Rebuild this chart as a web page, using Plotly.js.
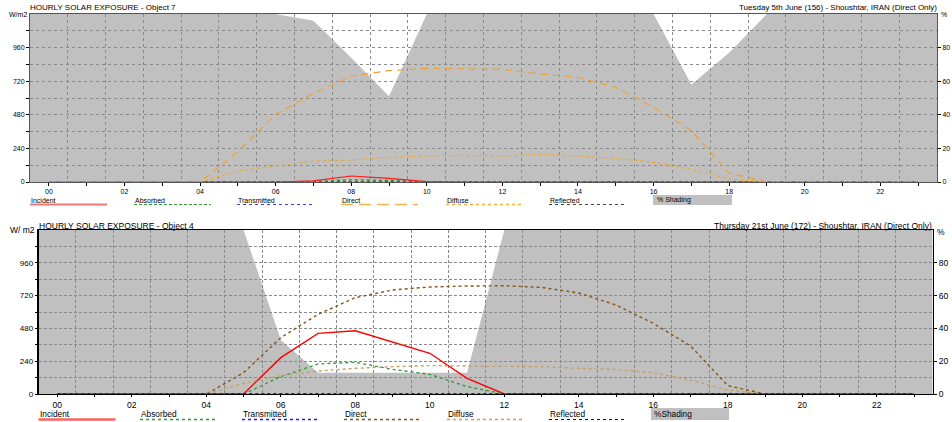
<!DOCTYPE html>
<html><head><meta charset="utf-8">
<script src="https://cdn.plot.ly/plotly-3.0.1.min.js"></script>
<style>html,body{margin:0;padding:0;background:#fff}#chart{width:952px;height:422px}</style>
</head><body><div id="chart"></div>
<script>
// ---------- shared categories / ticks ----------
const hours = [0,1,2,3,4,5,6,7,8,9,10,11,12,13,14,15,16,17,18,19,20,21,22,23];
const hourTickLabels = ['00','','02','','04','','06','','08','','10','','12','','14','','16','','18','','20','','22',''];
const gridHours = [0.5,1.5,2.5,3.5,4.5,5.5,6.5,7.5,8.5,9.5,10.5,11.5,12.5,13.5,14.5,15.5,16.5,17.5,18.5,19.5,20.5,21.5,22.5];
const wTickVals = [0,120,240,360,480,600,720,840,960,1080];
const wTickText = ['0','','240','','480','','720','','960',''];
const pctTickVals = [0,20,40,60,80];
const legendNames = ['Incident','Absorbed','Transmitted','Direct','Diffuse','Reflected'];

// ---------- top panel: Object 7, Tuesday 5th June ----------
const title5 = 'HOURLY SOLAR EXPOSURE - Object 7';
const subtitle5 = 'Tuesday 5th June (156) - Shoushtar, IRAN (Direct Only)';
const shading5     = [100,100,100,100,100,100,100,96,74,51,100,100,100,100,100,100,100,58,77,100,100,100,100,100];
const incident5    = [0,0,0,0,0,0,0,8,43,26,2,0,0,0,0,0,0,0,0,0,0,0,0,0];
const absorbed5    = [0,0,0,0,0,0,0,3,16,11,0,0,0,0,0,0,0,0,0,0,0,0,0,0];
const transmitted5 = [0,0,0,0,0,0,0,0,0,0,0,0,0,0,0,0,0,0,0,0,0,0,0,0];
const direct5      = [0,0,0,0,0,216,483,633,757,795,812,808,805,771,748,676,533,367,64,0,0,0,0,0];
const diffuse5     = [0,0,0,0,0,79,116,150,157,176,186,190,186,198,186,169,141,90,22,0,0,0,0,0];
const reflected5   = [0,0,0,0,0,0,0,0,0,0,0,0,0,0,0,0,0,0,0,0,0,0,0,0];

// ---------- bottom panel: Object 4, Thursday 21st June ----------
const title21 = 'HOURLY SOLAR EXPOSURE - Object 4';
const subtitle21 = 'Thursday 21st June (172) - Shoushtar, IRAN (Direct Only)';
const shading21     = [100,100,100,100,100,100,33,13,13,13,13,13,100,100,100,100,100,100,100,100,100,100,100,100];
const incident21    = [0,0,0,0,0,0,266,444,463,383,298,115,0,0,0,0,0,0,0,0,0,0,0,0];
const absorbed21    = [0,0,0,0,0,0,127,220,232,180,144,54,0,0,0,0,0,0,0,0,0,0,0,0];
const transmitted21 = [0,0,0,0,0,0,0,0,0,0,0,0,0,0,0,0,0,0,0,0,0,0,0,0];
const direct21      = [0,0,0,0,0,156,412,583,705,761,783,790,792,780,739,651,517,351,61,0,0,0,0,0];
const diffuse21     = [0,0,0,0,0,78,134,168,188,200,208,205,205,200,188,180,156,102,29,0,0,0,0,0];
const reflected21   = [0,0,0,0,0,0,0,0,0,0,0,0,0,0,0,0,0,0,0,0,0,0,0,0];

// ---------- layout helpers ----------
const W = 952, H = 422;
const px = v => v / W;
const py = v => 1 - v / H;
const X_RANGE = [-0.5, 23.5];
const FONT = 'Liberation Sans, Arial, sans-serif';

function shadeTrace(vals, xa, ya) {
  // extend the fill to the edges of the axis range
  const xs = [X_RANGE[0]].concat(hours, [X_RANGE[1]]);
  const ys = [vals[0]].concat(vals, [vals[vals.length - 1]]);
  return {x: xs, y: ys, xaxis: xa, yaxis: ya, type: 'scatter', mode: 'lines',
          fill: 'tozeroy', fillcolor: '#C0C0C0', line: {width: 0, color: '#C0C0C0'},
          hoverinfo: 'skip', showlegend: false};
}
function lineTrace(vals, xa, ya, color, dash, width) {
  return {x: hours, y: vals, xaxis: xa, yaxis: ya, type: 'scatter', mode: 'lines',
          line: {color: color, dash: dash, width: width}, hoverinfo: 'skip', showlegend: false};
}

const topStyle = {
  incident: ['#FF1A1A', 'solid', 1.2], absorbed: ['#1E8C1E', 'dot', 1.2],
  transmitted: ['#2020E0', 'dot', 1], direct: ['#F0A030', '7px,5px', 1.2],
  diffuse: ['#F0A830', '3px,3px', 1.2], reflected: ['#333333', 'dot', 1]
};
const botStyle = {
  incident: ['#FF0000', 'solid', 1.4], absorbed: ['#2E9A2E', 'dot', 1.3],
  transmitted: ['#1010D0', 'dot', 1.3], direct: ['#85561A', 'dot', 1.4],
  diffuse: ['#C8A064', 'dot', 1.4], reflected: ['#111111', 'dot', 1.2]
};

const data = [
  shadeTrace(shading5, 'x', 'y'),
  lineTrace(reflected5, 'x2', 'y2', ...topStyle.reflected),
  lineTrace(transmitted5, 'x2', 'y2', ...topStyle.transmitted),
  lineTrace(absorbed5, 'x2', 'y2', ...topStyle.absorbed),
  lineTrace(incident5, 'x2', 'y2', ...topStyle.incident),
  lineTrace(direct5, 'x2', 'y2', ...topStyle.direct),
  lineTrace(diffuse5, 'x2', 'y2', ...topStyle.diffuse),

  shadeTrace(shading21, 'x3', 'y3'),
  lineTrace(incident21, 'x4', 'y4', ...botStyle.incident),
  lineTrace(absorbed21, 'x4', 'y4', ...botStyle.absorbed),
  lineTrace(direct21, 'x4', 'y4', ...botStyle.direct),
  lineTrace(diffuse21, 'x4', 'y4', ...botStyle.diffuse),
  lineTrace(reflected21, 'x4', 'y4', ...botStyle.reflected),
  lineTrace(transmitted21, 'x4', 'y4', ...botStyle.transmitted)
];

const topX = [px(30), px(937)], topY = [py(182), py(14)];
const botX = [px(38.7), px(932.7)], botY = [py(394), py(230)];

function shadeAxes(dx, dy, anchorX, anchorY, lineColor, lineW, tickFontX, tickFontY, tickLenX) {
  return [{
    domain: dx, range: X_RANGE, anchor: anchorY, tickmode: 'array', tickvals: hours, ticktext: hourTickLabels,
    ticks: 'outside', ticklen: tickLenX, tickcolor: '#000', tickwidth: 1, showgrid: false, zeroline: false,
    showline: true, linecolor: lineColor, linewidth: lineW, mirror: true,
    tickfont: {family: FONT, size: tickFontX, color: '#000'}, fixedrange: true
  }, {
    domain: dy, range: [0, 100], anchor: anchorX, side: 'right', tickmode: 'array', tickvals: pctTickVals,
    ticks: 'outside', ticklen: 3, tickcolor: '#000', showgrid: false, zeroline: false,
    showline: true, linecolor: lineColor, linewidth: lineW, mirror: true,
    tickfont: {family: FONT, size: tickFontY, color: '#000'}, fixedrange: true
  }];
}
function lineAxes(dx, dy, anchorX, anchorY, gridColor, gridDash, tickFontY) {
  return [{
    domain: dx, range: X_RANGE, anchor: anchorY, tickmode: 'array', tickvals: gridHours,
    showticklabels: false, ticks: '', showgrid: true, gridcolor: gridColor, griddash: gridDash, gridwidth: 1,
    zeroline: false, showline: false, fixedrange: true
  }, {
    domain: dy, range: [0, 1200], anchor: anchorX, side: 'left', tickmode: 'array',
    tickvals: wTickVals, ticktext: wTickText, ticks: 'outside', ticklen: 3, tickcolor: '#000',
    showgrid: true, gridcolor: gridColor, griddash: gridDash, gridwidth: 1, zeroline: false, showline: false,
    tickfont: {family: FONT, size: tickFontY, color: '#000'}, fixedrange: true
  }];
}

const [xa1, ya1] = shadeAxes(topX, topY, 'x', 'y', '#555555', 1, 7, 7, 3);
const [xa2, ya2] = lineAxes(topX, topY, 'x2', 'y2', '#8A8A8A', '3px,3px', 7);
const [xa3, ya3] = shadeAxes(botX, botY, 'x3', 'y3', '#000000', 1.3, 8.5, 8.5, 2);
const [xa4, ya4] = lineAxes(botX, botY, 'x4', 'y4', '#8A8A8A', '3px,2px', 8);

// ---------- annotations (titles, axis units, legend text) ----------
function ann(text, x, y, xanchor, size) {
  return {text: text, x: x, y: y, xref: 'paper', yref: 'paper', xanchor: xanchor, yanchor: 'middle',
          showarrow: false, font: {family: FONT, size: size, color: '#000'}, borderpad: 0};
}
const annotations = [
  ann(title5, px(29), py(8), 'left', 8),
  ann(subtitle5, px(938), py(8), 'right', 8),
  ann('W/m2', px(28), py(15), 'right', 7),
  ann('%', px(940), py(15), 'left', 7),
  ann(title21, px(37.5), py(225.5), 'left', 8.5),
  ann(subtitle21, px(933), py(225.5), 'right', 8.5),
  ann('W/ m2', px(36), py(230), 'right', 8.5),
  ann('%', px(936), py(232), 'left', 8.5)
];

// legend layout (positions only)
const legTopX = [30, 134, 237, 341, 446, 549], legTopW = 77;
const legBotX = [38.5, 140, 242, 344, 447, 549], legBotW = 77;
const topLegStyle = [['#F07878', 'solid', 2], ['#3A9A3A', '3px,2px', 1.2], ['#4040E0', 'dot', 1.2],
                     ['#F5B050', '12px,6px', 1.5], ['#F0B040', 'dot', 1.5], ['#444444', 'dot', 1.2]];
const botLegStyle = [['#FF6060', 'solid', 2.5], ['#2E9A2E', 'dot', 1.3], ['#2020E0', 'dot', 1.3],
                     ['#85561A', 'dot', 1.4], ['#C8A064', 'dot', 1.4], ['#111111', 'dot', 1.2]];
const shapes = [];
legendNames.forEach((n, i) => {
  annotations.push(ann(n, px(legTopX[i]), py(200), 'left', 7));
  shapes.push({type: 'line', xref: 'paper', yref: 'paper', x0: px(legTopX[i]), x1: px(legTopX[i] + legTopW),
               y0: py(204.5), y1: py(204.5), line: {color: topLegStyle[i][0], dash: topLegStyle[i][1], width: topLegStyle[i][2]}});
  annotations.push(ann(n, px(legBotX[i]), py(414), 'left', 8.3));
  shapes.push({type: 'line', xref: 'paper', yref: 'paper', x0: px(legBotX[i]), x1: px(legBotX[i] + legBotW),
               y0: py(419.5), y1: py(419.5), line: {color: botLegStyle[i][0], dash: botLegStyle[i][1], width: botLegStyle[i][2]}});
});
shapes.push({type: 'rect', xref: 'paper', yref: 'paper', x0: px(653), x1: px(732), y0: py(205), y1: py(195),
             fillcolor: '#C0C0C0', line: {width: 0}, layer: 'below'});
shapes.push({type: 'rect', xref: 'paper', yref: 'paper', x0: px(651), x1: px(729), y0: py(420), y1: py(408),
             fillcolor: '#C0C0C0', line: {width: 0}, layer: 'below'});
annotations.push(ann('% Shading', px(656), py(200), 'left', 7));
annotations.push(ann('%Shading', px(653), py(414), 'left', 8.3));

const layout = {
  width: W, height: H, margin: {l: 0, r: 0, t: 0, b: 0},
  paper_bgcolor: '#FFFFFF', plot_bgcolor: 'rgba(0,0,0,0)',
  showlegend: false, hovermode: false,
  font: {family: FONT, size: 8, color: '#000'},
  xaxis: xa1, yaxis: ya1, xaxis2: xa2, yaxis2: ya2,
  xaxis3: xa3, yaxis3: ya3, xaxis4: xa4, yaxis4: ya4,
  annotations: annotations, shapes: shapes
};

Plotly.newPlot('chart', data, layout, {staticPlot: true, displayModeBar: false});
</script>
</body></html>
